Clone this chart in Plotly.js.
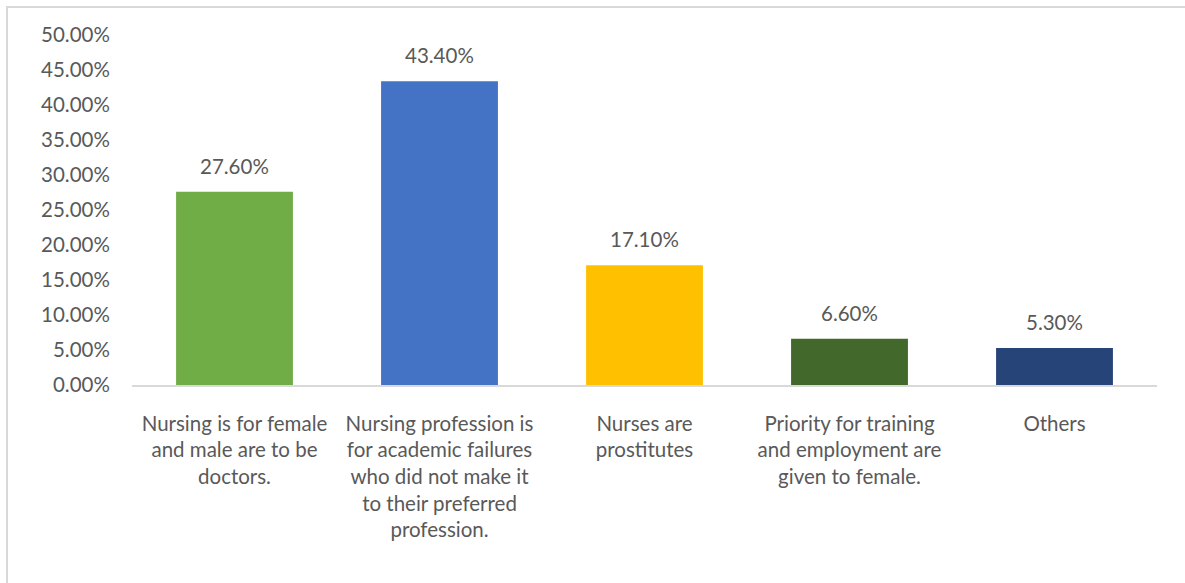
<!DOCTYPE html>
<html>
<head>
<meta charset="utf-8">
<script src="https://cdn.plot.ly/plotly-3.0.1.min.js"></script>
<style>
html,body{margin:0;padding:0;background:#fff;}
#wrap{position:relative;width:1185px;height:583px;}
#chart{width:1185px;height:583px;}
#frame{position:absolute;left:6px;top:6px;right:0;bottom:0;border-top:2px solid #D9D9D9;border-left:2px solid #D9D9D9;pointer-events:none;}
</style>
</head>
<body>
<div id="wrap"><div id="chart"></div><div id="frame"></div></div>
<script>
const categories = [
  "Nursing is for female<br>and male are to be<br>doctors.",
  "Nursing profession is<br>for academic failures<br>who did not make it<br>to their preferred<br>profession.",
  "Nurses are<br>prostitutes",
  "Priority for training<br>and employment are<br>given to female.",
  "Others"
];
const values = [27.6, 43.4, 17.1, 6.6, 5.3];
const barColors = ["#70AD47", "#4472C4", "#FFC000", "#43682B", "#264478"];
const yTickVals = [0, 5, 10, 15, 20, 25, 30, 35, 40, 45, 50];
const yTickText = ["0.00%", "5.00%", "10.00%", "15.00%", "20.00%", "25.00%", "30.00%", "35.00%", "40.00%", "45.00%", "50.00%"];

const font = "Lato, 'Open Sans', sans-serif";
const textColor = "#595959";
const fs = 20.5;

const trace = {
  type: "bar",
  x: categories,
  y: values,
  marker: {color: barColors},
  hoverinfo: "none"
};

const annotations = categories.map((c, i) => ({
  x: c, y: values[i], xref: "x", yref: "y",
  text: values[i].toFixed(2) + "%",
  showarrow: false, yanchor: "bottom", yshift: 12,
  font: {family: font, size: fs, color: textColor}
}));

const layout = {
  width: 1185, height: 583,
  margin: {l: 132, r: 28, t: 35, b: 198},
  paper_bgcolor: "#fff", plot_bgcolor: "#fff",
  bargap: 0.43,
  showlegend: false,
  font: {family: font, size: fs, color: textColor},
  xaxis: {
    type: "category",
    showline: true, linecolor: "#D9D9D9", linewidth: 2,
    ticks: "outside", ticklen: 19, tickcolor: "rgba(0,0,0,0)",
    tickangle: 0,
    tickfont: {family: font, size: fs, color: textColor},
    fixedrange: true
  },
  yaxis: {
    range: [0, 50],
    tickvals: yTickVals, ticktext: yTickText,
    showgrid: false, zeroline: false, showline: false,
    ticks: "outside", ticklen: 17, tickcolor: "rgba(0,0,0,0)",
    tickfont: {family: font, size: fs, color: textColor},
    fixedrange: true
  },
  annotations: annotations
};

Plotly.newPlot("chart", [trace], layout, {staticPlot: true, displayModeBar: false});
</script>
</body>
</html>
